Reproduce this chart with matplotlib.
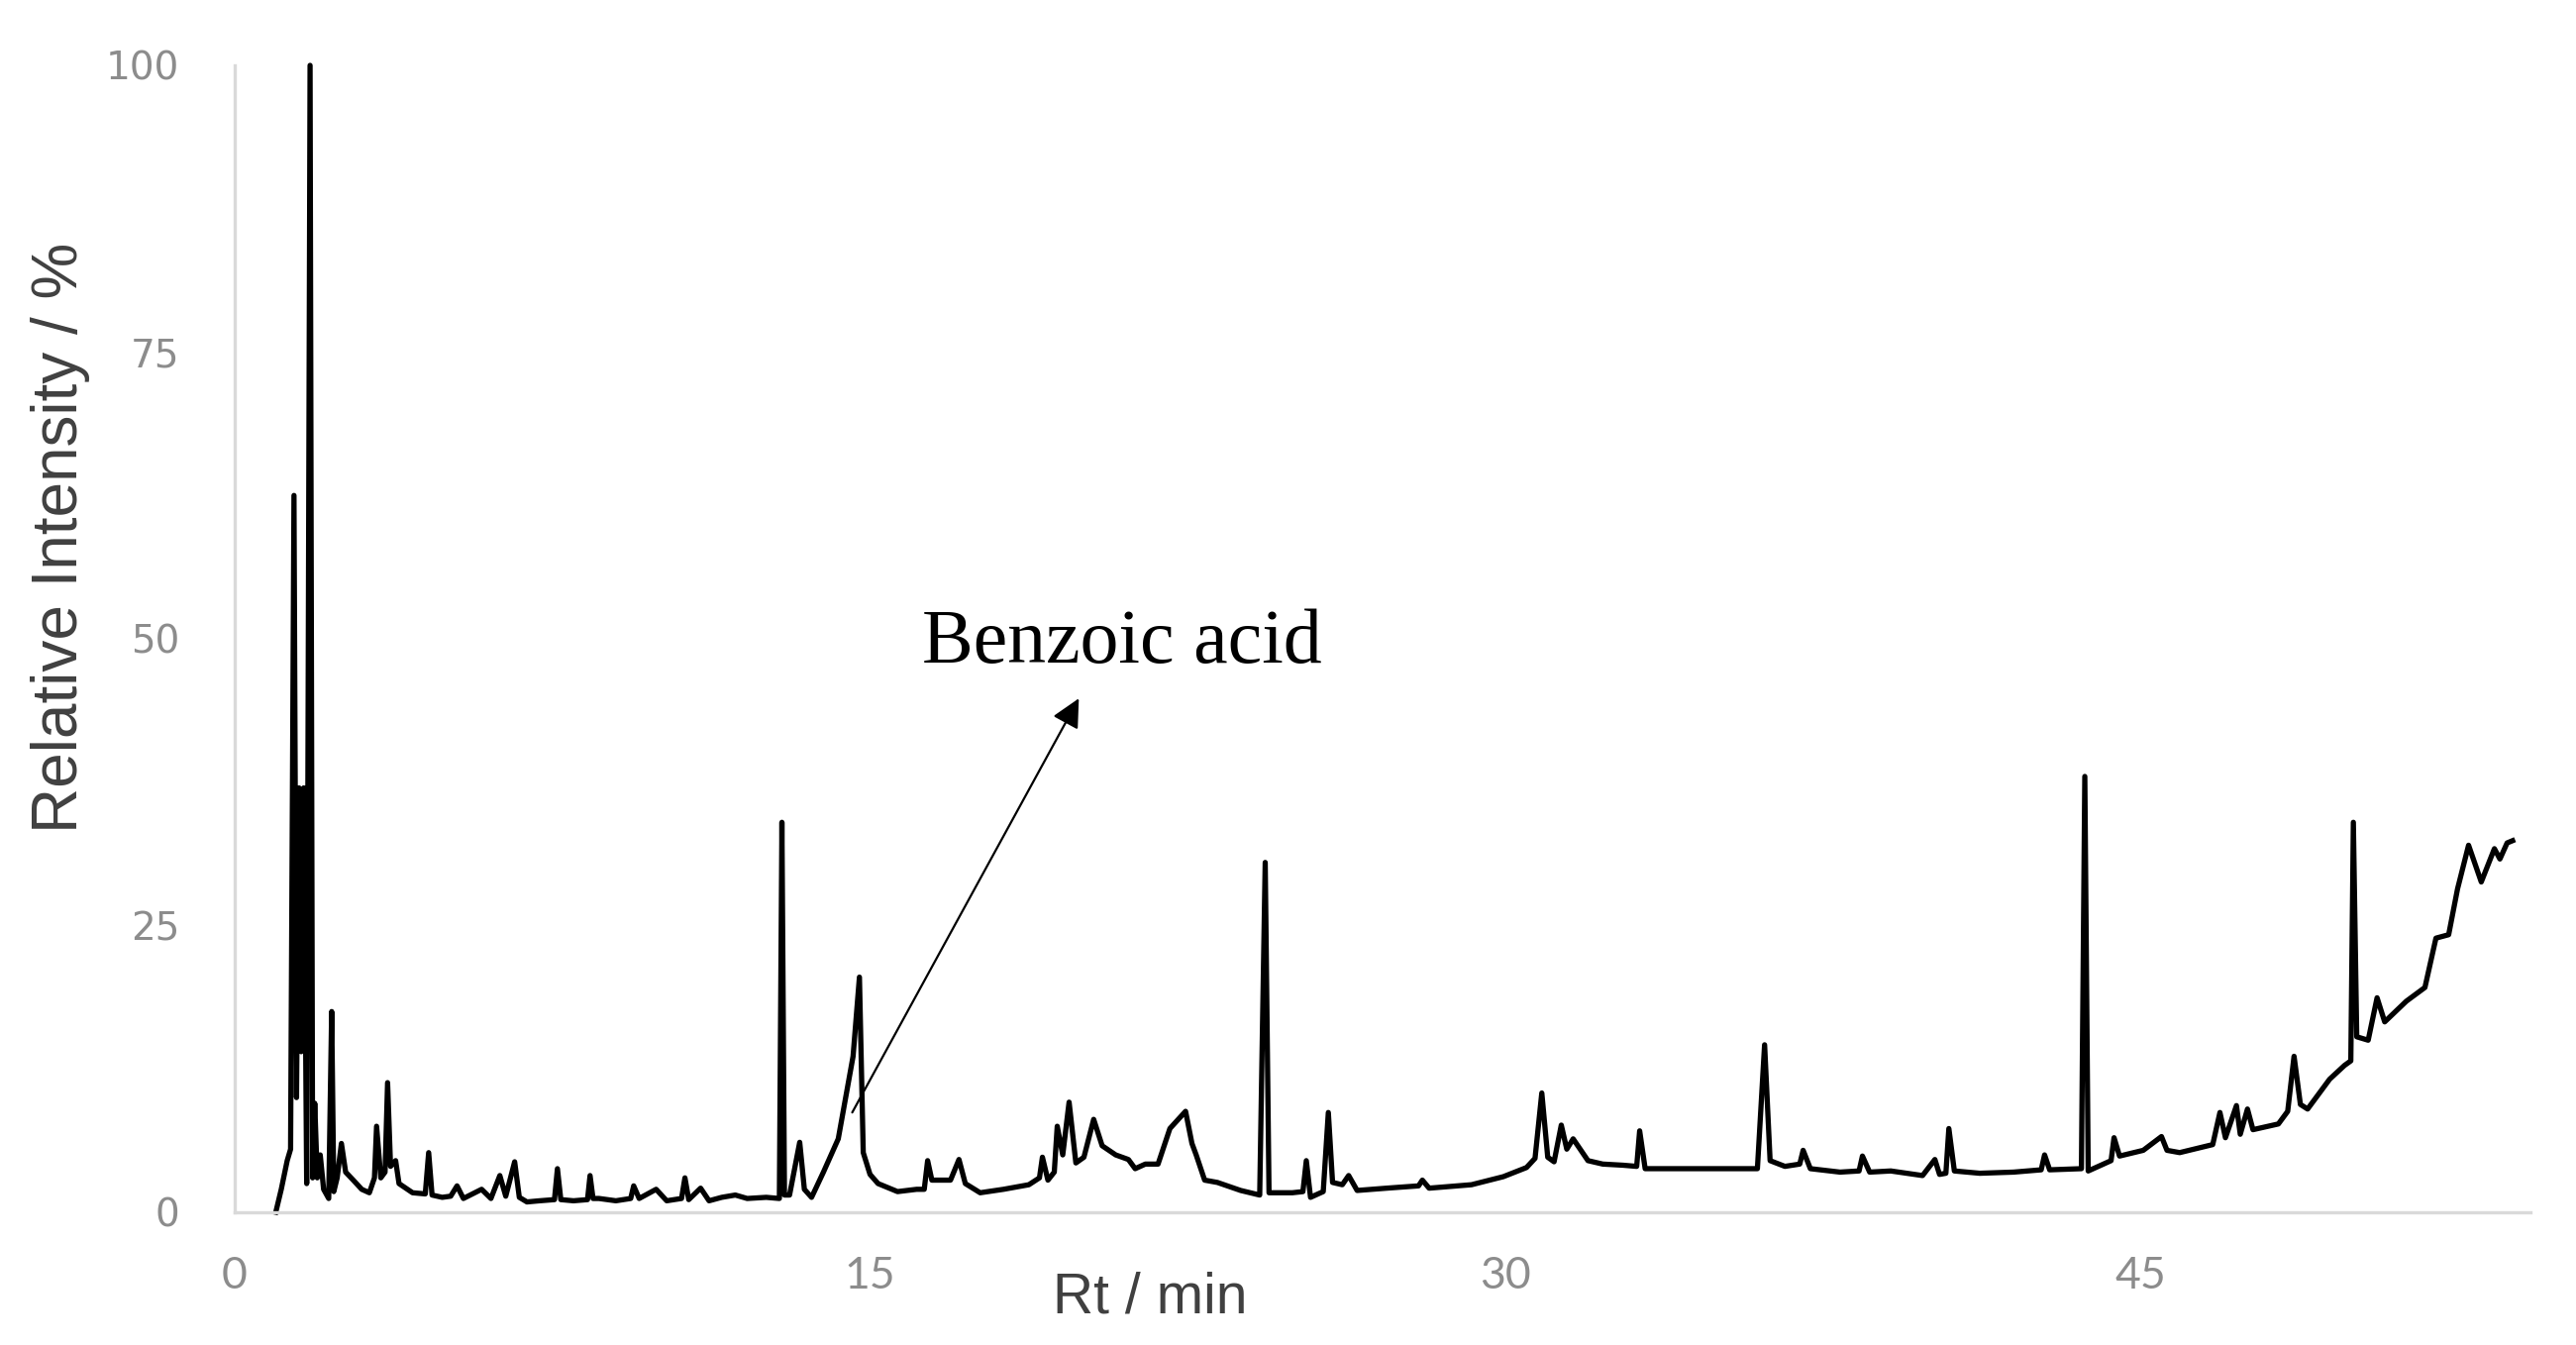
import matplotlib
matplotlib.use("Agg")
import matplotlib.pyplot as plt

# chromatogram: retention time [min] -> relative intensity [%]
rt_min = [
    0.97, 1.10, 1.24, 1.32, 1.40, 1.46, 1.52, 1.57, 1.63, 1.70,
    1.78, 1.84, 1.89, 1.95, 2.02, 2.10, 2.22, 2.29, 2.34, 2.42,
    2.52, 2.62, 2.80, 3.00, 3.18, 3.30, 3.35, 3.45, 3.55, 3.61,
    3.68, 3.80, 3.88, 4.20, 4.50, 4.58, 4.66, 4.90, 5.10, 5.25,
    5.40, 5.83, 6.05, 6.26, 6.40, 6.61, 6.72, 6.90, 7.20, 7.55,
    7.62, 7.70, 8.00, 8.33, 8.39, 8.46, 8.60, 9.00, 9.35, 9.42,
    9.55, 9.95, 10.20, 10.55, 10.63, 10.72, 11.00, 11.20, 11.50, 11.82,
    12.10, 12.55, 12.86, 12.92, 12.98, 13.10, 13.34, 13.45, 13.62, 13.90,
    14.25, 14.60, 14.75, 14.84, 15.00, 15.19, 15.65, 16.10, 16.28, 16.36,
    16.46, 16.90, 17.10, 17.25, 17.60, 18.15, 18.75, 19.00, 19.07, 19.20,
    19.35, 19.42, 19.55, 19.70, 19.86, 20.05, 20.28, 20.48, 20.80, 21.10,
    21.26, 21.50, 21.80, 22.08, 22.45, 22.60, 22.70, 22.90, 23.20, 23.75,
    24.20, 24.33, 24.42, 24.97, 25.22, 25.30, 25.40, 25.70, 25.82, 25.92,
    26.15, 26.30, 26.50, 27.20, 27.95, 28.04, 28.20, 29.20, 29.95, 30.50,
    30.70, 30.86, 31.00, 31.15, 31.32, 31.45, 31.60, 31.95, 32.30, 32.78,
    33.10, 33.17, 33.30, 34.50, 35.95, 36.12, 36.25, 36.60, 36.95, 37.03,
    37.20, 37.90, 38.35, 38.43, 38.60, 39.10, 39.85, 40.14, 40.25, 40.40,
    40.47, 40.60, 41.20, 42.00, 42.65, 42.73, 42.85, 43.60, 43.68, 43.76,
    44.30, 44.37, 44.50, 45.06, 45.49, 45.62, 45.92, 46.70, 46.87, 47.00,
    47.26, 47.35, 47.52, 47.65, 48.25, 48.47, 48.62, 48.77, 48.94, 49.46,
    49.81, 49.96, 50.02, 50.10, 50.37, 50.58, 50.76, 51.27, 51.71, 51.97,
    52.27, 52.48, 52.74, 53.04, 53.35, 53.48, 53.65, 53.78,
]
rel_int = [
    0.0, 2.0, 4.5, 5.5, 62.5, 10.0, 37.0, 14.0, 37.0, 2.5,
    100.0, 3.0, 9.5, 3.0, 5.0, 2.0, 1.2, 17.5, 1.8, 3.0,
    6.0, 3.5, 2.8, 2.0, 1.7, 3.0, 7.5, 3.0, 3.5, 11.3,
    4.0, 4.5, 2.5, 1.7, 1.6, 5.2, 1.5, 1.3, 1.4, 2.3,
    1.2, 2.0, 1.2, 3.2, 1.4, 4.4, 1.3, 0.9, 1.0, 1.1,
    3.8, 1.1, 1.0, 1.1, 3.2, 1.2, 1.2, 1.0, 1.2, 2.3,
    1.2, 2.0, 1.0, 1.2, 3.0, 1.1, 2.1, 1.0, 1.3, 1.5,
    1.2, 1.3, 1.2, 34.0, 1.5, 1.5, 6.1, 2.0, 1.3, 3.5,
    6.4, 13.6, 20.5, 5.2, 3.3, 2.5, 1.8, 2.0, 2.0, 4.5,
    2.8, 2.8, 4.6, 2.5, 1.7, 2.0, 2.4, 3.0, 4.8, 2.8,
    3.5, 7.5, 5.0, 9.6, 4.3, 4.8, 8.1, 5.8, 5.0, 4.6,
    3.8, 4.2, 4.2, 7.3, 8.8, 6.0, 5.0, 2.8, 2.6, 1.9,
    1.5, 30.5, 1.7, 1.7, 1.8, 4.5, 1.3, 1.8, 8.7, 2.6,
    2.4, 3.2, 1.9, 2.1, 2.3, 2.8, 2.1, 2.4, 3.1, 3.9,
    4.7, 10.4, 4.8, 4.4, 7.6, 5.5, 6.4, 4.5, 4.2, 4.1,
    4.0, 7.1, 3.8, 3.8, 3.8, 14.6, 4.5, 4.0, 4.2, 5.4,
    3.8, 3.5, 3.6, 4.9, 3.5, 3.6, 3.2, 4.6, 3.3, 3.4,
    7.3, 3.6, 3.4, 3.5, 3.7, 5.0, 3.7, 3.8, 38.0, 3.6,
    4.5, 6.5, 4.9, 5.4, 6.6, 5.4, 5.2, 5.9, 8.7, 6.5,
    9.3, 6.8, 9.0, 7.2, 7.7, 8.8, 13.6, 9.4, 9.0, 11.6,
    12.8, 13.2, 34.0, 15.3, 15.0, 18.7, 16.6, 18.4, 19.6, 23.9,
    24.2, 28.2, 32.0, 28.8, 31.7, 30.8, 32.2, 32.4,
]

x_ticks = [0, 15, 30, 45]
y_ticks = [0, 25, 50, 75, 100]

# annotation: arrow tail (in the peak) -> head, label anchor
arrow_tail = (14.58, 8.7)
arrow_head = (19.93, 44.8)
label_pos = (16.24, 47.9)

fig = plt.figure(figsize=(13.005, 6.79), dpi=200)
ax = fig.add_axes([0.0911, 0.0987, 0.8912, 0.8527])

ax.plot(rt_min, rel_int, color="black", lw=1.9, clip_on=False)

ax.set_xlim(0, 54.2)
ax.set_ylim(0, 100)
ax.set_xticks(x_ticks)
ax.set_yticks(y_ticks)
ax.tick_params(length=0)
ax.tick_params(axis="y", pad=20, labelsize=14, labelcolor="#8c8c8c")
ax.tick_params(axis="x", pad=16, labelsize=16, labelcolor="#8c8c8c")
for lbl in ax.get_xticklabels():
    lbl.set_family("Lato")

for side in ("top", "right"):
    ax.spines[side].set_visible(False)
for side in ("left", "bottom"):
    ax.spines[side].set_color("#d9d9d9")
    ax.spines[side].set_linewidth(1.2)

ax.annotate("", xy=arrow_head, xytext=arrow_tail,
            arrowprops=dict(arrowstyle="-|>", color="black", lw=0.8,
                            mutation_scale=22, shrinkA=0, shrinkB=0))
ax.text(*label_pos, "Benzoic acid", family="Liberation Serif", fontsize=28,
        ha="left", va="baseline", color="black")

fig.text(61 / 2601, 1 - 543 / 1358, "Relative Intensity / %", rotation=90,
         family="Liberation Sans", fontsize=23, color="#404040",
         ha="center", va="center")
fig.text(1161 / 2601, 1 - 1311 / 1358, "Rt / min",
         family="Liberation Sans", fontsize=20.5, color="#404040",
         ha="center", va="center")

fig.savefig("out.png", dpi=200, facecolor="white")
